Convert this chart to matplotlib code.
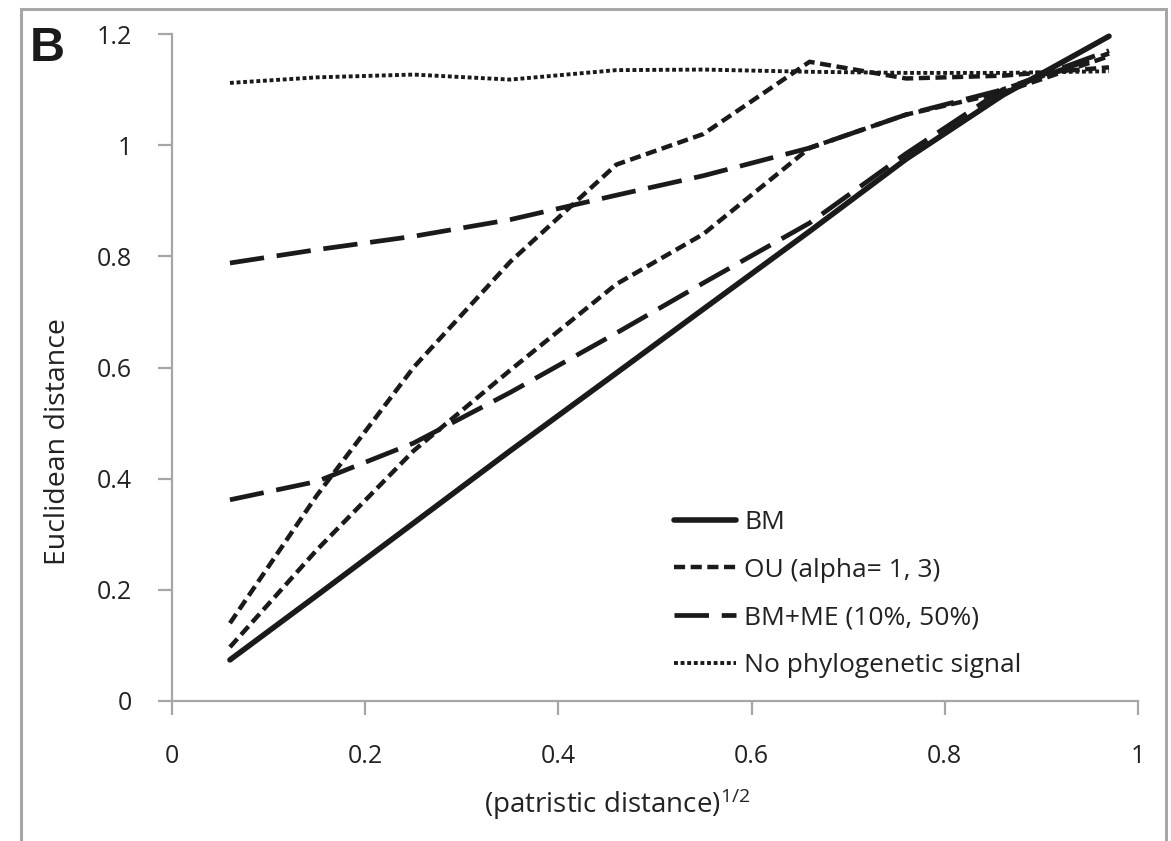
import matplotlib
matplotlib.use("Agg")
import matplotlib.pyplot as plt
from matplotlib.patches import Rectangle

plt.rcParams["font.family"] = ["Open Sans", "DejaVu Sans"]
plt.rcParams["mathtext.fontset"] = "custom"
plt.rcParams["mathtext.rm"] = "Open Sans"
plt.rcParams["mathtext.default"] = "regular"

# square root of patristic distance (bin centres)
x = [0.06, 0.15, 0.25, 0.35, 0.46, 0.55, 0.66, 0.76, 0.86, 0.97]

bm = [0.074, 0.19, 0.32, 0.45, 0.59, 0.705, 0.845, 0.975, 1.09, 1.196]
ou_alpha1 = [0.097, 0.272, 0.45, 0.595, 0.75, 0.84, 0.995, 1.055, 1.095, 1.16]
ou_alpha3 = [0.14, 0.37, 0.60, 0.79, 0.965, 1.02, 1.15, 1.12, 1.125, 1.14]
bm_me10 = [0.362, 0.395, 0.464, 0.555, 0.662, 0.752, 0.86, 0.985, 1.10, 1.17]
bm_me50 = [0.788, 0.812, 0.836, 0.866, 0.91, 0.945, 0.995, 1.055, 1.10, 1.165]
no_signal = [1.112, 1.122, 1.127, 1.118, 1.135, 1.136, 1.132, 1.13, 1.13, 1.133]

labels = ["BM", "OU (alpha= 1, 3)", "BM+ME (10%, 50%)", "No phylogenetic signal"]
xticks = [0, 0.2, 0.4, 0.6, 0.8, 1]
xticklabels = ["0", "0.2", "0.4", "0.6", "0.8", "1"]
yticks = [0, 0.2, 0.4, 0.6, 0.8, 1, 1.2]
yticklabels = ["0", "0.2", "0.4", "0.6", "0.8", "1", "1.2"]

W, H = 1171, 841
fig = plt.figure(figsize=(W / 100, H / 100), dpi=100)
ax = fig.add_axes([172 / W, (H - 701) / H, 966 / W, 667 / H])

ink = "#1a1a1a"
grey = "#a6a6a6"
text_col = "#222222"

l_bm, = ax.plot(x, bm, color=ink, lw=4.0, solid_capstyle="round",
                label=labels[0], clip_on=False, zorder=5)
l_ou, = ax.plot(x, ou_alpha1, color=ink, lw=3.2, dashes=(2.5, 1.25),
                label=labels[1], clip_on=False)
ax.plot(x, ou_alpha3, color=ink, lw=3.2, dashes=(2.5, 1.25), clip_on=False)
l_me, = ax.plot(x, bm_me10, color=ink, lw=3.4, dashes=(7.3, 2.7),
                label=labels[2], clip_on=False)
ax.plot(x, bm_me50, color=ink, lw=3.4, dashes=(7.3, 2.7), clip_on=False)
l_ns, = ax.plot(x, no_signal, color=ink, lw=2.8, dashes=(1.0, 0.7),
                label=labels[3], clip_on=False)

ax.set_xlim(0, 1)
ax.set_ylim(0, 1.2)
ax.set_xticks(xticks)
ax.set_xticklabels(xticklabels)
ax.set_yticks(yticks)
ax.set_yticklabels(yticklabels)

for side in ("top", "right"):
    ax.spines[side].set_visible(False)
for side in ("left", "bottom"):
    ax.spines[side].set_color(grey)
    ax.spines[side].set_linewidth(1.6)
ax.tick_params(axis="both", direction="out", length=10, width=1.6,
               color=grey, labelsize=18, labelcolor=text_col)
ax.tick_params(axis="y", pad=19)
ax.tick_params(axis="x", pad=21)

ax.set_xlabel(r"(patristic distance)$^{1/2}$", fontsize=20, color=text_col)
ax.xaxis.label.set_va("center")
ax.xaxis.set_label_coords((617 - 172) / 966, (701 - 804) / 667)
ax.set_ylabel("Euclidean distance", fontsize=20.5, color=text_col)
ax.yaxis.label.set_va("center")
ax.yaxis.set_label_coords((58 - 172) / 966, (701 - 442) / 667)

ax.legend(handles=[l_bm, l_ou, l_me, l_ns], loc="upper left",
          bbox_to_anchor=((674 - 172) / 966, (701 - 510) / 667),
          frameon=False, fontsize=19,
          handlelength=2.35, handletextpad=0.3, labelspacing=0.86,
          borderpad=0, borderaxespad=0, labelcolor=text_col)

# panel frame and letter
fig.patches.append(Rectangle((21 / W, -0.05), (1166 - 21) / W, 1.05 - 9 / H,
                             transform=fig.transFigure, fill=False,
                             edgecolor=grey, lw=2.2))
fig.text(30 / W, 1 - 26 / H, "B", fontsize=35, fontweight="bold",
         family="Liberation Sans", color=ink, ha="left", va="top")

fig.savefig("out.png", dpi=100)
